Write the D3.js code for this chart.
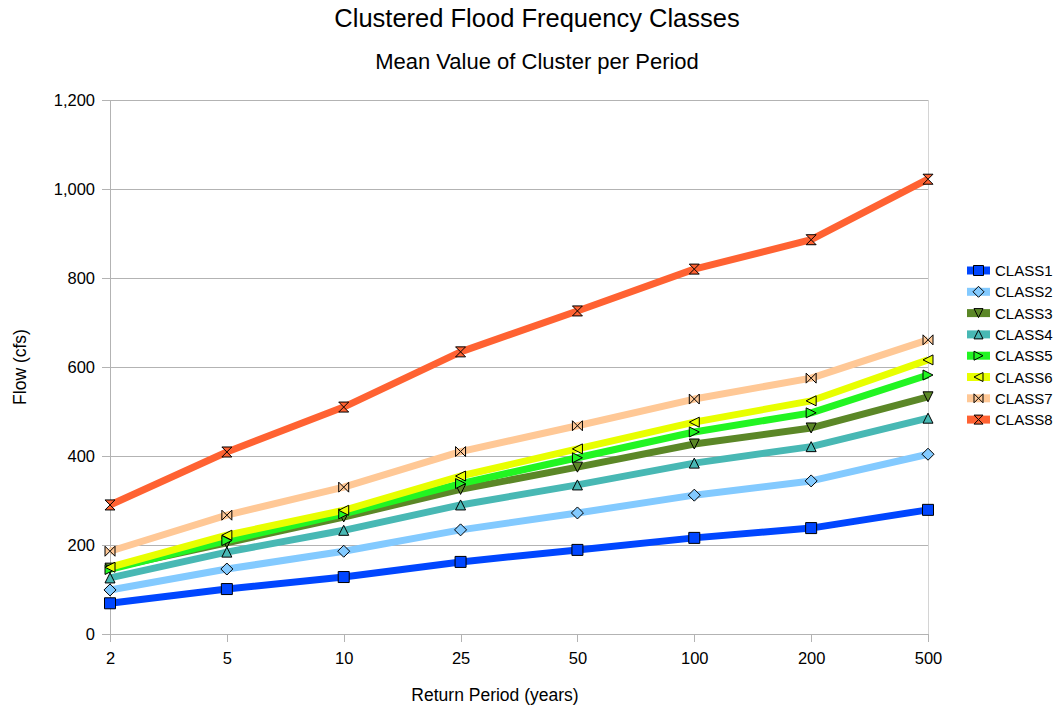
<!DOCTYPE html>
<html>
<head>
<meta charset="utf-8">
<script src="https://cdn.jsdelivr.net/npm/d3@7"></script>
<style>
  html, body { margin: 0; padding: 0; background: #fff; }
  svg { display: block; font-family: "Liberation Sans", Arial, sans-serif; }
</style>
</head>
<body>
<svg id="chart" width="1058" height="709"></svg>
<script>
// Return periods (years) shown as evenly spaced categories
const periods = ["2", "5", "10", "25", "50", "100", "200", "500"];

// Mean flow (cfs) of each cluster for each return period
const class1 = [69, 101, 128, 162, 189, 216, 238, 279];
const class2 = [99, 146, 186, 234, 272, 312, 344, 404];
const class3 = [148, 205, 263, 325, 375, 427, 463, 533];
const class4 = [126, 184, 233, 290, 335, 384, 421, 485];
const class5 = [145, 210, 270, 338, 396, 454, 497, 582];
const class6 = [150, 222, 278, 355, 416, 476, 524, 616];
const class7 = [186, 267, 330, 410, 468, 528, 575, 661];
const class8 = [290, 409, 510, 634, 726, 820, 886, 1022];

const seriesNames = ["CLASS1", "CLASS2", "CLASS3", "CLASS4", "CLASS5", "CLASS6", "CLASS7", "CLASS8"];
const seriesValues = [class1, class2, class3, class4, class5, class6, class7, class8];
const seriesColors = ["#0046ff", "#83caff", "#5b8727", "#48b8b4", "#22f522", "#e8ff00", "#ffc896", "#ff6232"];
const seriesMarkers = ["square", "diamond", "down", "up", "right", "left", "bowtie", "hourglass"];

const yTicks = [0, 200, 400, 600, 800, 1000, 1200];

const svg = d3.select("#chart");
const x0 = 110, x1 = 928, y0 = 634, y1 = 100;

const x = d3.scalePoint().domain(periods).range([x0, x1]);
const y = d3.scaleLinear().domain([0, 1200]).range([y0, y1]);

// Titles
svg.append("text").attr("x", 537).attr("y", 27).attr("text-anchor", "middle")
  .attr("font-size", 25.5).attr("fill", "#000").text("Clustered Flood Frequency Classes");
svg.append("text").attr("x", 537).attr("y", 69).attr("text-anchor", "middle")
  .attr("font-size", 22).attr("fill", "#000").text("Mean Value of Cluster per Period");

// Horizontal gridlines
svg.append("g").selectAll("line").data(yTicks.filter(d => d > 0)).join("line")
  .attr("x1", x0).attr("x2", x1)
  .attr("y1", d => y(d)).attr("y2", d => y(d))
  .attr("stroke", "#b3b3b3").attr("stroke-width", 1)
  .attr("shape-rendering", "crispEdges");

// Right edge of plot area
svg.append("line").attr("x1", x1).attr("x2", x1).attr("y1", y1).attr("y2", y0)
  .attr("stroke", "#d4d4d4").attr("stroke-width", 1).attr("shape-rendering", "crispEdges");

// Y axis
const yAxis = d3.axisLeft(y).tickValues(yTicks).tickSize(8).tickPadding(7)
  .tickFormat(d3.format(","));
const gy = svg.append("g").attr("transform", `translate(${x0},0)`).call(yAxis);
gy.select(".domain").attr("stroke", "#b3b3b3").attr("shape-rendering", "crispEdges");
gy.selectAll(".tick line").attr("stroke", "#b3b3b3").attr("shape-rendering", "crispEdges");
gy.selectAll(".tick text").attr("font-size", 16.5).attr("fill", "#000")
  .attr("font-family", "Liberation Sans, Arial, sans-serif");

// X axis
const xAxis = d3.axisBottom(x).tickSize(8).tickPadding(10).tickSizeOuter(0);
const gx = svg.append("g").attr("transform", `translate(0,${y0})`).call(xAxis);
gx.select(".domain").attr("stroke", "#b3b3b3").attr("shape-rendering", "crispEdges");
gx.selectAll(".tick line").attr("stroke", "#b3b3b3").attr("shape-rendering", "crispEdges");
gx.selectAll(".tick text").attr("font-size", 16.5).attr("fill", "#000")
  .attr("font-family", "Liberation Sans, Arial, sans-serif");

// Axis titles
svg.append("text").attr("transform", `translate(26,${(y0 + y1) / 2}) rotate(-90)`)
  .attr("text-anchor", "middle").attr("font-size", 17.5).attr("fill", "#000").text("Flow (cfs)");
svg.append("text").attr("x", 495).attr("y", 701).attr("text-anchor", "middle")
  .attr("font-size", 17.5).attr("fill", "#000").text("Return Period (years)");

// Marker shapes, centred at origin
function markerPath(kind, s) {
  const h = s / 2;
  switch (kind) {
    case "square": return `M${-h},${-h}H${h}V${h}H${-h}Z`;
    case "diamond": return `M0,${-h - 1}L${h + 1},0L0,${h + 1}L${-h - 1},0Z`;
    case "down": return `M${-h},${-h}L${h},${-h}L0,${h}Z`;
    case "up": return `M${-h},${h}L${h},${h}L0,${-h}Z`;
    case "right": return `M${-h},${-h}L${h},0L${-h},${h}Z`;
    case "left": return `M${h},${-h}L${-h},0L${h},${h}Z`;
    case "bowtie": return `M${-h},${-h}L0,0L${-h},${h}ZM${h},${-h}L0,0L${h},${h}Z`;
    case "hourglass": return `M${-h},${-h}L${h},${-h}L0,0ZM${-h},${h}L${h},${h}L0,0Z`;
  }
}

const line = d3.line().x((d, i) => x(periods[i])).y(d => y(d));

// Series lines
const seriesG = svg.append("g");
seriesValues.forEach((vals, k) => {
  seriesG.append("path").datum(vals).attr("d", line)
    .attr("fill", "none").attr("stroke", seriesColors[k]).attr("stroke-width", 7)
    .attr("stroke-linejoin", "round");
});

// Series markers
seriesValues.forEach((vals, k) => {
  const size = seriesMarkers[k] === "square" ? 11 : 10;
  seriesG.append("g").selectAll("path").data(vals).join("path")
    .attr("transform", (d, i) => `translate(${x(periods[i])},${y(d)})`)
    .attr("d", markerPath(seriesMarkers[k], size))
    .attr("fill", seriesColors[k]).attr("stroke", "#000").attr("stroke-width", 1);
});

// Legend
const legend = svg.append("g");
seriesNames.forEach((name, k) => {
  const ly = 270.5 + k * 21.3;
  const g = legend.append("g").attr("transform", `translate(0,${ly})`);
  g.append("line").attr("x1", 967).attr("x2", 990).attr("y1", 0).attr("y2", 0)
    .attr("stroke", seriesColors[k]).attr("stroke-width", 8);
  g.append("path").attr("transform", "translate(978.5,0)")
    .attr("d", markerPath(seriesMarkers[k], seriesMarkers[k] === "square" ? 10 : 9))
    .attr("fill", seriesColors[k]).attr("stroke", "#000").attr("stroke-width", 1);
  g.append("text").attr("x", 995).attr("y", 5.5).attr("font-size", 15).attr("fill", "#000")
    .text(name);
});
</script>
</body>
</html>
